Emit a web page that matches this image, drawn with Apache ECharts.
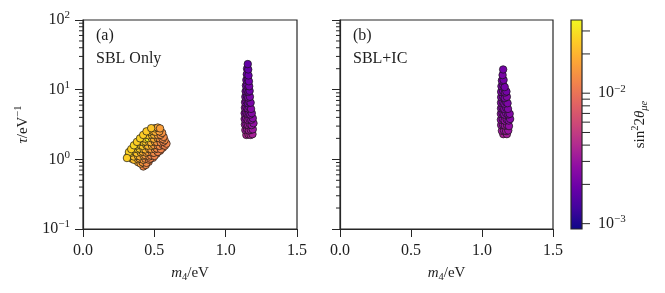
<!DOCTYPE html>
<html><head><meta charset="utf-8">
<script src="https://cdn.jsdelivr.net/npm/echarts@6/dist/echarts.min.js"></script>
<style>html,body{margin:0;padding:0;background:#fff}#c{width:665px;height:293px}</style>
</head><body><div id="c"></div>
<script>
// ---------------- data ----------------
const xTicks = [0, 0.5, 1.0, 1.5];
const yRange = [0.1, 100];
const yMinorTicks = [0.2,0.3,0.4,0.5,0.6,0.7,0.8,0.9,2,3,4,5,6,7,8,9,20,30,40,50,60,70,80,90];
const cbRange = [0.00091, 0.0364];
const cbTicks = [0.001,0.002,0.003,0.004,0.005,0.006,0.007,0.008,0.009,0.01,0.02,0.03];
const panelLabels = ['(a)', '(b)'];
const panelTitles = ['SBL Only', 'SBL+IC'];
const plasma = ['#0d0887','#41049d','#6a00a8','#8f0da4','#b12a90','#cc4778','#e16462','#f2844b','#fca636','#fcce25','#f0f921'];

// [m4 (eV), tau (1/eV), sin^2 2theta_mue]
const sblOnlyLow = [
 [0.423,0.79,0.013],[0.440,0.83,0.013],[0.460,0.92,0.012],[0.490,1.05,0.012],[0.515,1.20,0.012],[0.540,1.33,0.012],[0.560,1.47,0.012],
 [0.386,0.91,0.019],[0.404,0.87,0.017],[0.418,0.905,0.015],[0.445,0.89,0.013],
 [0.343,1.02,0.023],[0.357,0.985,0.022],[0.386,1.005,0.019],[0.396,1.035,0.018],[0.424,0.985,0.016],[0.437,1.02,0.014],[0.462,0.99,0.013],[0.471,1.025,0.012],
 [0.318,1.115,0.024],[0.345,1.14,0.024],[0.356,1.10,0.022],[0.384,1.125,0.021],[0.398,1.105,0.019],[0.424,1.13,0.017],[0.436,1.15,0.016],[0.465,1.10,0.014],[0.477,1.135,0.013],[0.501,1.12,0.012],
 [0.336,1.24,0.025],[0.364,1.28,0.024],[0.376,1.24,0.023],[0.404,1.265,0.021],[0.418,1.29,0.019],[0.444,1.245,0.017],[0.456,1.28,0.016],[0.484,1.255,0.014],[0.497,1.24,0.013],[0.524,1.28,0.012],
 [0.357,1.40,0.025],[0.385,1.395,0.025],[0.396,1.43,0.024],[0.424,1.405,0.022],[0.437,1.39,0.020],[0.463,1.43,0.018],[0.478,1.40,0.016],[0.504,1.395,0.014],[0.517,1.43,0.013],[0.546,1.40,0.012],
 [0.378,1.575,0.026],[0.404,1.60,0.025],[0.418,1.56,0.024],[0.444,1.595,0.023],[0.456,1.57,0.021],[0.484,1.56,0.019],[0.498,1.60,0.016],[0.524,1.575,0.014],[0.537,1.56,0.013],[0.561,1.60,0.012],[0.574,1.57,0.012],[0.585,1.68,0.012],
 [0.398,1.77,0.026],[0.424,1.765,0.025],[0.437,1.80,0.024],[0.463,1.78,0.022],[0.476,1.76,0.020],[0.503,1.80,0.017],[0.518,1.775,0.015],[0.544,1.76,0.013],[0.563,1.79,0.012],[0.572,1.88,0.013],
 [0.424,2.01,0.025],[0.437,1.98,0.024],[0.458,2.015,0.034],[0.483,1.995,0.021],[0.497,1.98,0.019],[0.523,2.02,0.016],[0.537,2.00,0.014],[0.558,1.975,0.013],[0.565,2.10,0.013],
 [0.445,2.25,0.025],[0.458,2.22,0.024],[0.483,2.24,0.022],[0.498,2.26,0.020],[0.525,2.23,0.017],[0.543,2.25,0.014],[0.555,2.40,0.014],
 [0.467,2.50,0.024],[0.492,2.53,0.021],[0.507,2.49,0.019],[0.535,2.52,0.016],
 [0.503,2.79,0.021],[0.524,2.86,0.018],[0.540,2.78,0.016],
 [0.322,1.27,0.026],[0.338,1.40,0.025],[0.357,1.59,0.027],[0.378,1.78,0.025],[0.400,2.00,0.026],[0.422,2.24,0.025],[0.445,2.52,0.024],[0.478,2.80,0.023],
 [0.308,1.045,0.025]
];
const sblOnlyHigh = [
 [1.145,2.24,0.0038],[1.160,2.28,0.0040],[1.175,2.24,0.0037],[1.188,2.30,0.0035],
 [1.138,2.63,0.0034],[1.150,2.70,0.0032],[1.163,2.60,0.0035],[1.176,2.65,0.0033],[1.190,2.70,0.0031],
 [1.135,3.16,0.0031],[1.146,3.20,0.0029],[1.158,3.10,0.0032],[1.170,3.20,0.0030],[1.182,3.10,0.0029],[1.195,3.30,0.0028],
 [1.133,3.80,0.0029],[1.143,3.90,0.0027],[1.155,3.70,0.0030],[1.167,3.80,0.0028],[1.180,3.70,0.0027],[1.190,3.90,0.0026],
 [1.133,4.60,0.0027],[1.143,4.70,0.0025],[1.153,4.50,0.0028],[1.163,4.60,0.0024],[1.173,4.40,0.0026],[1.183,4.60,0.0025],
 [1.135,5.50,0.0026],[1.145,5.60,0.0024],[1.155,5.40,0.0027],[1.165,5.60,0.0023],[1.178,5.30,0.0025],
 [1.136,6.60,0.0025],[1.146,6.80,0.0023],[1.156,6.40,0.0021],[1.166,6.70,0.0024],[1.175,6.50,0.0022],
 [1.138,7.90,0.0024],[1.148,8.10,0.0019],[1.158,7.70,0.0023],[1.170,7.90,0.0022],
 [1.140,9.50,0.0023],[1.150,9.80,0.0021],[1.160,9.30,0.0022],[1.168,9.60,0.0020],
 [1.142,11.5,0.0022],[1.152,11.8,0.0020],[1.165,11.2,0.0021],
 [1.145,13.8,0.0021],[1.155,14.2,0.0019],[1.163,13.2,0.0020],
 [1.148,16.6,0.0020],[1.160,16.0,0.0019],
 [1.150,20.0,0.0019],[1.158,19.5,0.0018],
 [1.155,23.3,0.0018]
];
const sblIC = [
 [1.150,2.30,0.0035],[1.175,2.30,0.0034],
 [1.140,2.57,0.0033],[1.155,2.60,0.0031],[1.170,2.55,0.0032],[1.185,2.60,0.0030],
 [1.135,3.10,0.0030],[1.148,3.15,0.0028],[1.162,3.05,0.0031],[1.176,3.10,0.0029],[1.190,3.00,0.0028],
 [1.133,3.70,0.0028],[1.146,3.80,0.0026],[1.160,3.60,0.0029],[1.174,3.75,0.0027],[1.188,3.60,0.0026],[1.198,3.80,0.0025],
 [1.133,4.50,0.0027],[1.145,4.60,0.0025],[1.157,4.40,0.0026],[1.170,4.60,0.0024],[1.185,4.40,0.0025],[1.195,4.50,0.0024],
 [1.134,5.40,0.0026],[1.145,5.50,0.0024],[1.157,5.30,0.0025],[1.170,5.50,0.0023],[1.183,5.30,0.0024],
 [1.134,6.50,0.0025],[1.146,6.70,0.0023],[1.158,6.30,0.0024],[1.170,6.60,0.0022],[1.180,6.40,0.0023],
 [1.135,7.80,0.0024],[1.148,8.00,0.0023],[1.160,7.60,0.0022],[1.175,7.90,0.0024],
 [1.135,9.30,0.0023],[1.148,9.60,0.0022],[1.162,9.10,0.0024],[1.172,9.40,0.0021],
 [1.137,11.2,0.0023],[1.150,11.5,0.0022],[1.160,10.9,0.0021],
 [1.140,13.5,0.0022],[1.152,13.8,0.0021],
 [1.145,16.2,0.0022],
 [1.149,19.5,0.0021]
];

// ---------------- chart ----------------
const FONT = 'Liberation Serif';
const INK = '#1e1e1e';
const LINE = '#262626';
const chart = echarts.init(document.getElementById('c'), null, {renderer: 'canvas'});

const isPow10 = v => { const l = Math.log10(v); return Math.abs(l - Math.round(l)) < 1e-6; };
const powLabel = v => {
  if (!isPow10(v)) return '';
  const e = Math.round(Math.log10(v));
  return '{b|10}{s|' + (e < 0 ? '\u2212' + (-e) : e) + '}';
};
const powRich = {
  b: {fontFamily: FONT, fontSize: 16, color: INK, lineHeight: 20},
  s: {fontFamily: FONT, fontSize: 11, color: INK, lineHeight: 12, verticalAlign: 'top'}
};
const nameRich = {
  r: {fontFamily: FONT, fontSize: 15, color: INK, lineHeight: 20},
  i: {fontFamily: FONT, fontSize: 15, fontStyle: 'italic', color: INK, lineHeight: 20},
  sup: {fontFamily: FONT, fontSize: 10.5, color: INK, lineHeight: 12, verticalAlign: 'top'},
  sub: {fontFamily: FONT, fontSize: 10.5, color: INK, lineHeight: 10, verticalAlign: 'bottom'},
  subi: {fontFamily: FONT, fontSize: 10.5, fontStyle: 'italic', color: INK, lineHeight: 10, verticalAlign: 'bottom'}
};

function xAxisDef(gi) {
  return {
    type: 'value', gridIndex: gi, min: xTicks[0], max: xTicks[xTicks.length - 1], interval: 0.5,
    axisLine: {show: true, lineStyle: {color: LINE, width: 1.2}},
    axisTick: {show: true, inside: false, length: 8, lineStyle: {color: LINE, width: 1}},
    axisLabel: {show: true, margin: 14, fontFamily: FONT, fontSize: 16, color: INK, formatter: v => v.toFixed(1)},
    splitLine: {show: false},
    name: '{i|m}{sub|4}{r|/eV}', nameLocation: 'middle', nameGap: 34,
    nameTextStyle: {rich: nameRich}
  };
}
function yAxisDef(gi, showLabels) {
  const a = {
    type: 'log', logBase: 10, gridIndex: gi, min: yRange[0], max: yRange[1],
    axisLine: {show: true, lineStyle: {color: LINE, width: 1.2}},
    axisTick: {show: true, inside: false, length: 8, lineStyle: {color: LINE, width: 1}},
    axisLabel: {show: showLabels, margin: 13, formatter: powLabel, rich: powRich},
    splitLine: {show: false}, minorTick: {show: false}
  };
  if (showLabels) {
    a.name = '{i|\u03c4}{r|/eV}{sup|\u22121}';
    a.nameLocation = 'middle'; a.nameGap = 50; a.nameRotate = 90;
    a.nameTextStyle = {rich: nameRich};
  }
  return a;
}
function tickSeries(xi, yi, values, len, side) {
  return {
    type: 'custom', xAxisIndex: xi, yAxisIndex: yi, silent: true, clip: false, z: 6,
    data: values.map(v => [0, v]), encode: {x: 0, y: 1},
    renderItem(params, api) {
      const cs = params.coordSys;
      const y = api.coord([0, api.value(1)])[1];
      const x0 = side === 'left' ? cs.x : cs.x + cs.width;
      const x1 = side === 'left' ? x0 - len : x0 + len;
      return {type: 'line', shape: {x1: x0, y1: y, x2: x1, y2: y}, style: {stroke: LINE, lineWidth: 1}};
    }
  };
}
const withLog = arr => arr.map(d => [d[0], d[1], d[2], Math.log10(d[2])]);
const scatterStyle = {borderColor: '#151515', borderWidth: 0.7, opacity: 1};
const titleStyle = {fontFamily: FONT, fontSize: 16, fontWeight: 'normal', color: INK};

const option = {
  animation: false,
  backgroundColor: '#fff',
  grid: [
    {left: 83, top: 20, width: 214, height: 209, show: true, borderColor: LINE, borderWidth: 1.2, outerBoundsMode: 'none'},
    {left: 340, top: 20, width: 213, height: 209, show: true, borderColor: LINE, borderWidth: 1.2, outerBoundsMode: 'none'},
    {left: 571, top: 20, width: 11, height: 209, show: false, outerBoundsMode: 'none'}
  ],
  title: [
    {text: panelLabels[0], left: 96, top: 28, padding: 0, textStyle: titleStyle},
    {text: panelTitles[0], left: 96, top: 51, padding: 0, textStyle: titleStyle},
    {text: panelLabels[1], left: 353, top: 28, padding: 0, textStyle: titleStyle},
    {text: panelTitles[1], left: 353, top: 51, padding: 0, textStyle: titleStyle}
  ],
  xAxis: [
    xAxisDef(0), xAxisDef(1),
    {type: 'value', gridIndex: 2, min: 0, max: 1, show: false}
  ],
  yAxis: [
    yAxisDef(0, true), yAxisDef(1, false),
    {
      type: 'log', logBase: 10, gridIndex: 2, min: cbRange[0], max: cbRange[1], position: 'right',
      axisLine: {show: false}, axisTick: {show: false}, splitLine: {show: false},
      axisLabel: {show: true, margin: 16, formatter: powLabel, rich: powRich},
      name: '{r|sin}{sup|2}{r|2}{i|\u03b8}{subi|\u03bce}', nameLocation: 'middle', nameGap: 44, nameRotate: 90,
      nameTextStyle: {rich: nameRich}
    }
  ],
  visualMap: {
    type: 'continuous', show: false, dimension: 3, seriesIndex: [0, 1],
    min: Math.log10(cbRange[0]), max: Math.log10(cbRange[1]),
    inRange: {color: plasma}
  },
  series: [
    {type: 'scatter', xAxisIndex: 0, yAxisIndex: 0, symbol: 'circle', symbolSize: 7.5,
     data: withLog(sblOnlyHigh.concat(sblOnlyLow)), itemStyle: scatterStyle, z: 3},
    {type: 'scatter', xAxisIndex: 1, yAxisIndex: 1, symbol: 'circle', symbolSize: 7.5,
     data: withLog(sblIC), itemStyle: scatterStyle, z: 3},
    {
      type: 'custom', xAxisIndex: 2, yAxisIndex: 2, silent: true, clip: false, z: 4,
      data: [[0, cbRange[0], cbRange[1]]], encode: {x: 0, y: [1, 2]},
      renderItem(params, api) {
        const p0 = api.coord([0, api.value(1)]);
        const p1 = api.coord([1, api.value(2)]);
        const stops = plasma.map((c, i) => ({offset: i / (plasma.length - 1), color: c}));
        return {
          type: 'rect',
          shape: {x: p0[0], y: p1[1], width: p1[0] - p0[0], height: p0[1] - p1[1]},
          style: {fill: new echarts.graphic.LinearGradient(0, 1, 0, 0, stops), stroke: LINE, lineWidth: 1.2}
        };
      }
    },
    tickSeries(0, 0, yMinorTicks, 4, 'left'),
    tickSeries(1, 1, yMinorTicks, 4, 'left'),
    tickSeries(2, 2, cbTicks, 8, 'right')
  ]
};
chart.setOption(option);
</script>
</body></html>
